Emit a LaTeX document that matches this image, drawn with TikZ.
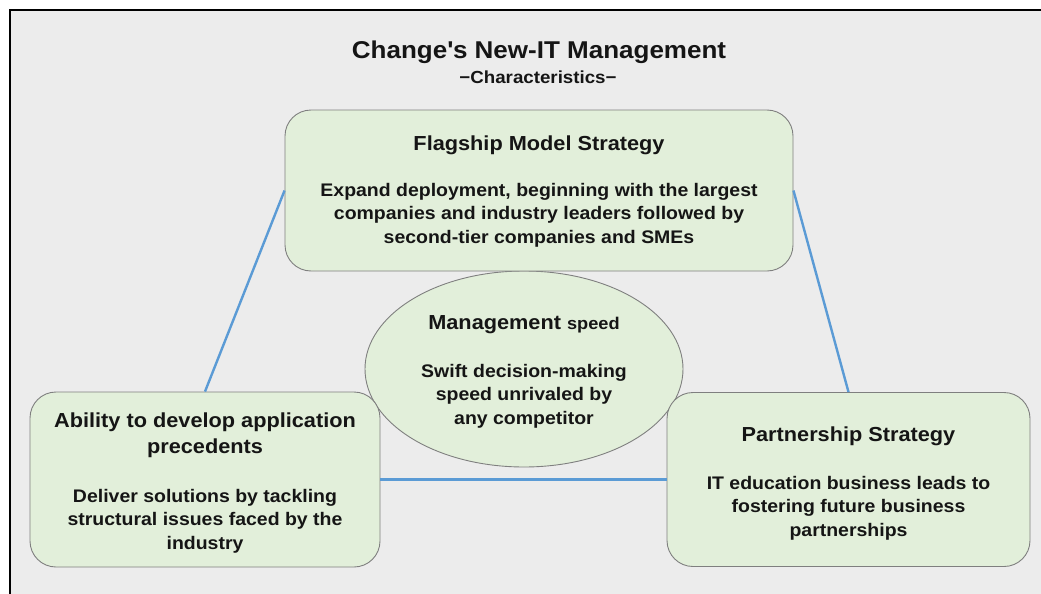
\documentclass[tikz,border=0pt]{standalone}
\usepackage{fontspec}
\setmainfont{Liberation Sans}[FakeStretch=1.07]
\usetikzlibrary{shapes.geometric}
\definecolor{bggray}{HTML}{ECECEC}
\definecolor{boxgreen}{HTML}{E2EFDA}
\definecolor{boxline}{HTML}{7F7F7F}
\definecolor{linkblue}{HTML}{5B9BD5}
\definecolor{txt}{HTML}{151515}
\tikzset{
  panel/.style={draw=boxline, line width=0.9pt, fill=boxgreen, rounded corners=26pt, inner sep=0pt},
  oval/.style={draw=boxline, line width=0.9pt, fill=boxgreen, ellipse, inner sep=0pt},
  link/.style={draw=linkblue, line width=2.4pt},
  head/.style={text=txt, font=\bfseries\fontsize{20.3}{26}\selectfont, align=center, inner sep=0pt},
  body/.style={text=txt, font=\bfseries\fontsize{18.2}{23.7}\selectfont, align=center, inner sep=0pt},
}
\begin{document}
\begin{tikzpicture}[x=1pt,y=-1pt]
\useasboundingbox (0,0) rectangle (1041,594);
\fill[white] (0,0) rectangle (1041,594);
\fill[bggray] (10,10) rectangle (1050,600);
\draw[black, line width=1.6pt] (10,600) -- (10,10) -- (1050,10);
% title
\node[text=txt, font=\bfseries\fontsize{24.3}{28}\selectfont, inner sep=0pt] (title) at (539,52.5) {Change\textquotesingle s New-IT Management};
\node[text=txt, font=\bfseries\fontsize{17.5}{20}\selectfont, inner sep=0pt] (subtitle) at (538,77) {−Characteristics−};
% central ellipse
\node[oval, minimum width=318pt, minimum height=196pt] (speed) at (524,369) {};
% boxes
\node[panel, minimum width=508pt, minimum height=161pt] (flag) at (539,190.5) {};
\node[panel, minimum width=350pt, minimum height=175pt] (apps) at (205,479.5) {};
\node[panel, minimum width=363pt, minimum height=174pt] (part) at (848.5,479.5) {};
% connectors
\draw[link] (apps.north) -- (flag.west);
\draw[link] (flag.east) -- (part.north);
\draw[link] (apps.east) -- (part.west);
% texts
\node[head] (flagT) at (539,145) {Flagship Model Strategy};
\node[body] (flagB) at (539,215) {Expand deployment, beginning with the largest\\companies and industry leaders followed by\\second-tier companies and SMEs};
\node[head] (speedT) at (524,325) {Management {\fontsize{17}{20}\selectfont speed}};
\node[body] (speedB) at (524,396) {Swift decision-making\\speed unrivaled by\\any competitor};
\node[head] (appsT) at (205,435) {Ability to develop application\\precedents};
\node[body] (appsB) at (205,521) {Deliver solutions by tackling\\structural issues faced by the\\industry};
\node[head] (partT) at (848.5,436) {Partnership Strategy};
\node[body] (partB) at (848.5,508) {IT education business leads to\\fostering future business\\partnerships};
\end{tikzpicture}
\end{document}
